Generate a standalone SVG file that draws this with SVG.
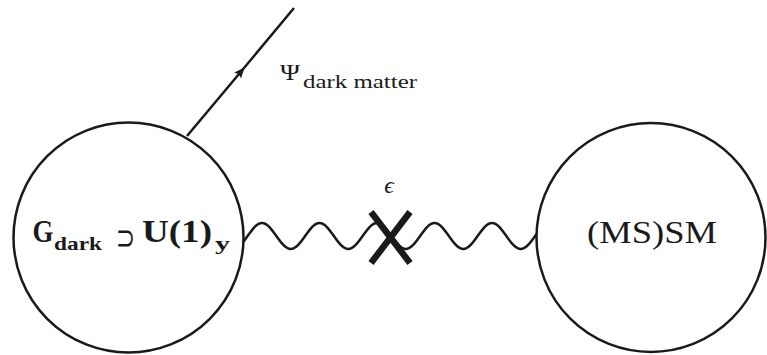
<svg xmlns="http://www.w3.org/2000/svg" width="767" height="355" viewBox="0 0 767 355">
  <style>
    .node { fill: #ffffff; stroke: #1a1a1a; stroke-width: 2.5; }
    .wire { fill: none; stroke: #1a1a1a; stroke-width: 2.5; }
    .cross { stroke: #1a1a1a; stroke-width: 6.5; }
  </style>
  <defs>
    <marker id="arr" viewBox="-12 -6 14 12" markerWidth="14" markerHeight="12" refX="0" refY="0" markerUnits="userSpaceOnUse" orient="auto">
      <path d="M1,0 L-10,-4.5 Q-7,0 -10,4.5 Z" fill="#1a1a1a"/>
    </marker>
  </defs>

  <g id="connectors">
    <path id="photon" class="wire" d="M233.25,249 C243.72,249 251.53,223 262,223 S280.28,249 290.75,249 S309.03,223 319.5,223 S337.78,249 348.25,249 S366.53,223 377,223 S395.28,249 405.75,249 S424.03,223 434.5,223 S452.78,249 463.25,249 S481.53,223 492,223 S510.28,249 520.75,249 S539.03,223 549.5,223"/>
    <path id="fermion" class="wire" d="M187,136 L244,68 L294,8" marker-mid="url(#arr)"/>
  </g>

  <g id="mixing">
    <line class="cross" x1="371" y1="212" x2="410" y2="263"/>
    <line class="cross" x1="410" y1="212" x2="371" y2="263"/>
    <text x="389" y="193" font-family="Liberation Serif, DejaVu Serif, serif" font-size="24" font-style="italic" text-anchor="middle" fill="#1a1a1a">ϵ</text>
  </g>

  <g id="dark-sector" font-family="Liberation Serif, DejaVu Serif, serif" fill="#1a1a1a">
    <circle class="node" cx="128.5" cy="237.5" r="115"/>
    <text font-weight="bold" x="32.5" y="242" font-size="31" textLength="21" lengthAdjust="spacingAndGlyphs">G</text>
    <text font-weight="bold" x="54" y="250" font-size="19" textLength="48" lengthAdjust="spacingAndGlyphs">dark</text>
    <text x="116" y="249" font-size="34" textLength="19" lengthAdjust="spacingAndGlyphs" font-family="DejaVu Sans, sans-serif">⊃</text>
    <text font-weight="bold" x="142" y="242" font-size="31" textLength="70" lengthAdjust="spacingAndGlyphs">U(1)</text>
    <text font-weight="bold" x="215" y="250" font-size="19" textLength="15" lengthAdjust="spacingAndGlyphs">y</text>
  </g>

  <g id="sm-sector" font-family="Liberation Serif, DejaVu Serif, serif" fill="#1a1a1a">
    <circle class="node" cx="651" cy="237.5" r="114.5"/>
    <text x="587" y="243" font-size="31" textLength="130" lengthAdjust="spacingAndGlyphs">(MS)SM</text>
  </g>

  <g id="dark-matter-label" font-family="Liberation Serif, DejaVu Serif, serif" fill="#1a1a1a">
    <text x="280" y="80" font-size="24" textLength="20" lengthAdjust="spacingAndGlyphs">Ψ</text>
    <text x="303" y="88" font-size="19" textLength="114" lengthAdjust="spacingAndGlyphs">dark matter</text>
  </g>
</svg>
